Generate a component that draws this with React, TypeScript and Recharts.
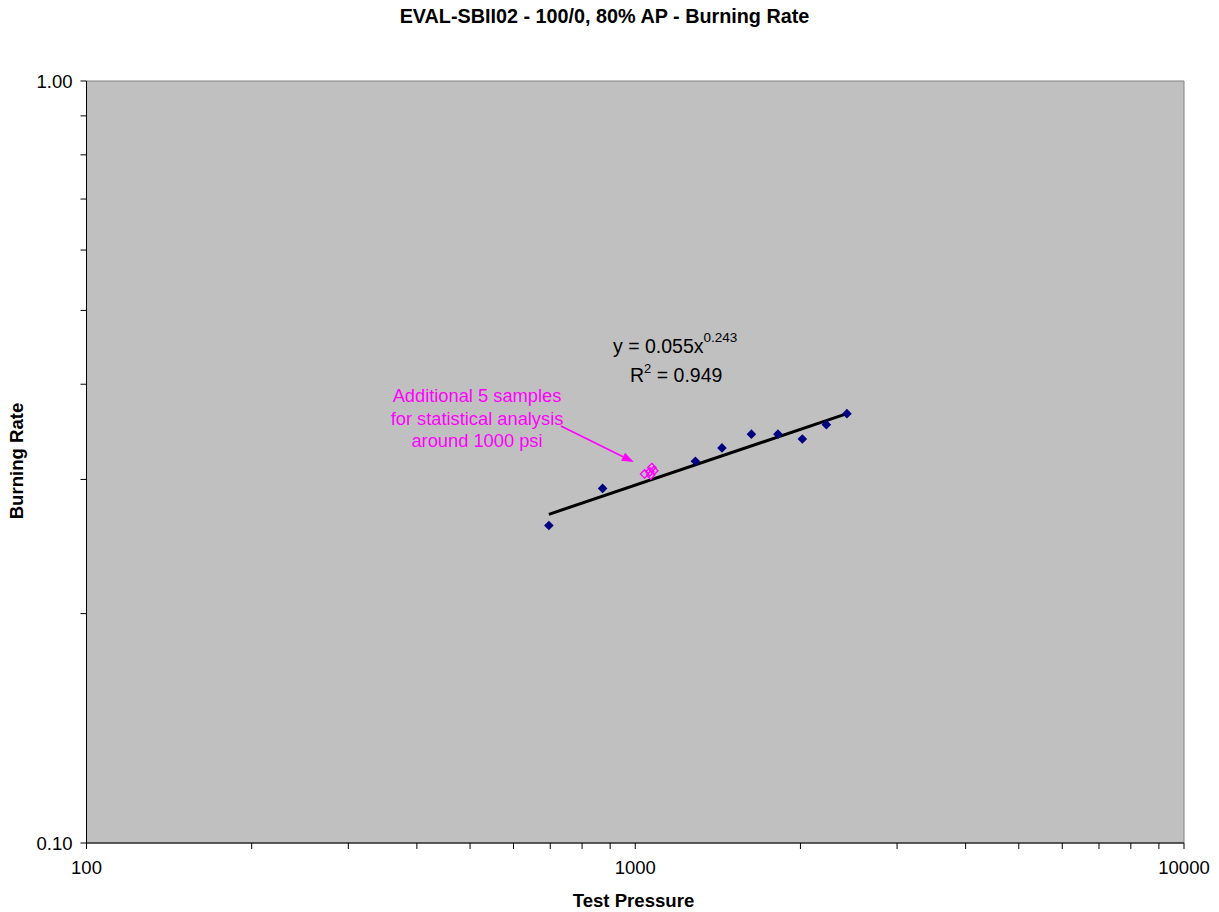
import React from "react";
import {
  ScatterChart,
  Scatter,
  XAxis,
  YAxis,
  ReferenceArea,
  ReferenceLine,
} from "recharts";

// ---- data ----
const testPressure = [696, 872, 1287, 1439, 1628, 1820, 2016, 2230, 2431];
const burningRate = [0.261, 0.292, 0.317, 0.33, 0.344, 0.344, 0.339, 0.354, 0.366];

const extraPressure = [1040, 1063, 1067, 1072, 1081];
const extraRate = [0.305, 0.307, 0.304, 0.311, 0.308];

const trendPressure = [696, 2431];
const trendRate = [0.27, 0.366];

const xTicks = [100, 200, 300, 400, 500, 600, 700, 800, 900, 1000, 2000, 3000, 4000, 5000, 6000, 7000, 8000, 9000, 10000];
const xTickLabels = [100, 1000, 10000];
const yTicks = [0.1, 0.2, 0.3, 0.4, 0.5, 0.6, 0.7, 0.8, 0.9, 1.0];
const yTickLabels = [0.1, 1.0];

const arrowFrom = { x: 732, y: 0.3526 };
const arrowTo = { x: 994, y: 0.3162 };

const mainData = testPressure.map((x, i) => ({ x, y: burningRate[i] }));
const extraData = extraPressure.map((x, i) => ({ x, y: extraRate[i] }));
const trendData = trendPressure.map((x, i) => ({ x, y: trendRate[i] }));

const FONT = "'Liberation Sans', Arial, Helvetica, sans-serif";

const FilledDiamond = (props: any) => {
  const { cx, cy } = props;
  if (cx == null || cy == null) return <g />;
  const r = 4.8;
  return (
    <polygon
      points={`${cx},${cy - r} ${cx + r},${cy} ${cx},${cy + r} ${cx - r},${cy}`}
      fill="#000080"
    />
  );
};

const OpenDiamond = (props: any) => {
  const { cx, cy } = props;
  if (cx == null || cy == null) return <g />;
  const r = 4.2;
  return (
    <polygon
      points={`${cx},${cy - r} ${cx + r},${cy} ${cx},${cy + r} ${cx - r},${cy}`}
      fill="none"
      stroke="#FF00FF"
      strokeWidth={1.3}
    />
  );
};

const NoShape = () => <g />;

const ArrowShape = (props: any) => {
  const { x1, y1, x2, y2 } = props;
  if ([x1, y1, x2, y2].some((v) => v == null || isNaN(v))) return <g />;
  const dx = x2 - x1;
  const dy = y2 - y1;
  const len = Math.sqrt(dx * dx + dy * dy);
  const ux = dx / len;
  const uy = dy / len;
  const hl = 12;
  const hw = 4.5;
  const bx = x2 - ux * hl;
  const by = y2 - uy * hl;
  const px = -uy;
  const py = ux;
  return (
    <g>
      <line x1={x1} y1={y1} x2={bx} y2={by} stroke="#FF00FF" strokeWidth={1.5} />
      <polygon
        points={`${x2},${y2} ${bx + px * hw},${by + py * hw} ${bx - px * hw},${by - py * hw}`}
        fill="#FF00FF"
      />
    </g>
  );
};

const fmtX = (v: number) => (xTickLabels.includes(v) ? String(v) : "");
const fmtY = (v: number) =>
  yTickLabels.some((t) => Math.abs(t - v) < 1e-9) ? v.toFixed(2) : "";

export default function App() {
  const W = 1211;
  const H = 904;
  return (
    <div style={{ position: "relative", width: W, height: H, fontFamily: FONT }}>
      <ScatterChart
        width={W}
        height={H}
        margin={{ top: 73, right: 35, left: 0, bottom: 29 }}
      >
        <XAxis
          type="number"
          dataKey="x"
          scale="log"
          domain={[100, 10000]}
          ticks={xTicks}
          interval={0}
          tickFormatter={fmtX}
          allowDataOverflow
          height={40}
          tickSize={6}
          tickMargin={12}
          axisLine={{ stroke: "#000", strokeWidth: 1 }}
          tickLine={{ stroke: "#000" }}
          tick={{ fill: "#000", fontSize: 18.5, fontFamily: FONT }}
        />
        <YAxis
          type="number"
          dataKey="y"
          scale="log"
          domain={[0.1, 1]}
          ticks={yTicks}
          interval={0}
          tickFormatter={fmtY}
          allowDataOverflow
          width={78.5}
          tickSize={6}
          tickMargin={8}
          axisLine={{ stroke: "#000", strokeWidth: 1 }}
          tickLine={{ stroke: "#000" }}
          tick={{ fill: "#000", fontSize: 18.5, fontFamily: FONT }}
        />
        <ReferenceArea
          x1={100}
          x2={10000}
          y1={0.1}
          y2={1}
          fill="#C0C0C0"
          fillOpacity={1}
          stroke="#808080"
          strokeWidth={1}
        />
        <Scatter
          data={trendData}
          line={{ stroke: "#000", strokeWidth: 3 }}
          lineType="joint"
          shape={NoShape}
          isAnimationActive={false}
        />
        <Scatter data={mainData} shape={FilledDiamond} isAnimationActive={false} />
        <Scatter data={extraData} shape={OpenDiamond} isAnimationActive={false} />
        <ReferenceLine
          segment={[arrowFrom, arrowTo]}
          shape={ArrowShape}
          ifOverflow="visible"
        />
      </ScatterChart>
      <svg
        width={1219}
        height={912}
        style={{ position: "absolute", left: -8, top: -8, pointerEvents: "none" }}
        fontFamily={FONT}
      >
        <text x={604.5} y={23} textAnchor="middle" fontSize={19.8} fontWeight="bold" fill="#000">
          EVAL-SBII02 - 100/0, 80% AP - Burning Rate
        </text>
        <text x={633.5} y={907} textAnchor="middle" fontSize={18.6} fontWeight="bold" fill="#000">
          Test Pressure
        </text>
        <text
          x={23}
          y={461}
          textAnchor="middle"
          fontSize={18.6}
          fontWeight="bold"
          fill="#000"
          transform="rotate(-90 23 461)"
        >
          Burning Rate
        </text>
        <text x={613} y={353} fontSize={19.5} fill="#000">
          y = 0.055x<tspan fontSize={13.5} dy={-11}>0.243</tspan>
        </text>
        <text x={630} y={382} fontSize={19.5} fill="#000">
          R<tspan fontSize={13} dy={-9}>2</tspan>
          <tspan dy={9}> = 0.949</tspan>
        </text>
        <g fontSize={18.3} fill="#FF00FF" textAnchor="middle">
          <text x={477} y={402}>Additional 5 samples</text>
          <text x={477} y={425}>for statistical analysis</text>
          <text x={477} y={447}>around 1000 psi</text>
        </g>
      </svg>
    </div>
  );
}
